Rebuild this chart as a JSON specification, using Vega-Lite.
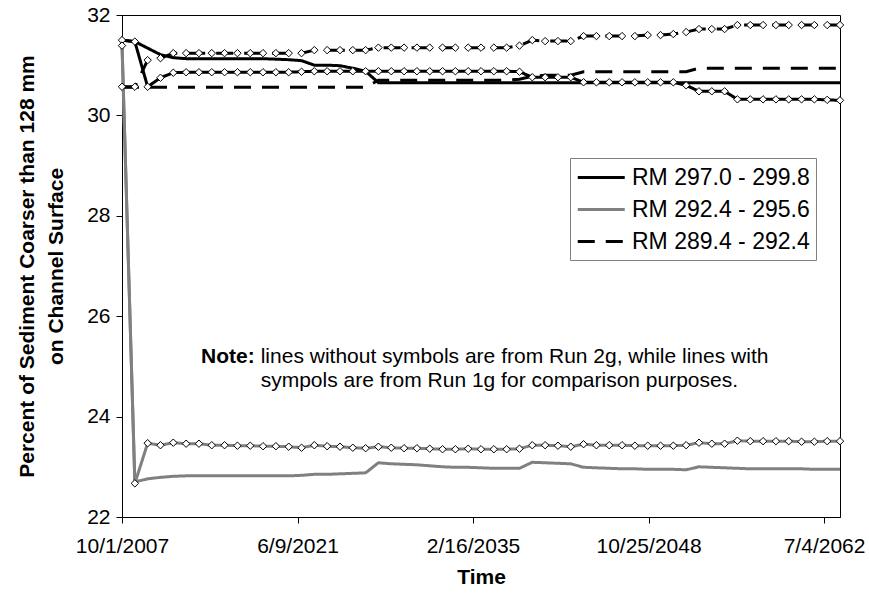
{
"$schema":"https://vega.github.io/schema/vega-lite/v6.json",
"width":718,"height":502,
"autosize":"none",
"padding":{"left":122,"top":15,"right":29,"bottom":77},
"background":"white",
"config":{
"view":{"stroke":"#000","strokeWidth":1},
"font":"Liberation Sans",
"axis":{"labelFont":"Liberation Sans","titleFont":"Liberation Sans","labelFontSize":21,"titleFontSize":21,"labelColor":"#000","titleColor":"#000","domainColor":"#000","tickColor":"#000","grid":false,"tickSize":6,"titleFontWeight":"bold","domainWidth":1,"tickWidth":1}
},
"data":{"values":[
{"date":"2007-10-01","reach":"RM 297.0 - 299.8","run":"2g","pct":31.5},
{"date":"2008-10-01","reach":"RM 297.0 - 299.8","run":"2g","pct":31.47},
{"date":"2009-10-01","reach":"RM 297.0 - 299.8","run":"2g","pct":31.34},
{"date":"2010-10-01","reach":"RM 297.0 - 299.8","run":"2g","pct":31.21},
{"date":"2011-10-01","reach":"RM 297.0 - 299.8","run":"2g","pct":31.15},
{"date":"2012-10-01","reach":"RM 297.0 - 299.8","run":"2g","pct":31.13},
{"date":"2013-10-01","reach":"RM 297.0 - 299.8","run":"2g","pct":31.13},
{"date":"2014-10-01","reach":"RM 297.0 - 299.8","run":"2g","pct":31.13},
{"date":"2015-10-01","reach":"RM 297.0 - 299.8","run":"2g","pct":31.13},
{"date":"2016-10-01","reach":"RM 297.0 - 299.8","run":"2g","pct":31.13},
{"date":"2017-10-01","reach":"RM 297.0 - 299.8","run":"2g","pct":31.13},
{"date":"2018-10-01","reach":"RM 297.0 - 299.8","run":"2g","pct":31.13},
{"date":"2019-10-01","reach":"RM 297.0 - 299.8","run":"2g","pct":31.12},
{"date":"2020-10-01","reach":"RM 297.0 - 299.8","run":"2g","pct":31.11},
{"date":"2021-10-01","reach":"RM 297.0 - 299.8","run":"2g","pct":31.09},
{"date":"2022-10-01","reach":"RM 297.0 - 299.8","run":"2g","pct":31.0},
{"date":"2023-10-01","reach":"RM 297.0 - 299.8","run":"2g","pct":31.0},
{"date":"2024-10-01","reach":"RM 297.0 - 299.8","run":"2g","pct":30.99},
{"date":"2025-10-01","reach":"RM 297.0 - 299.8","run":"2g","pct":30.94},
{"date":"2026-10-01","reach":"RM 297.0 - 299.8","run":"2g","pct":30.88},
{"date":"2027-10-01","reach":"RM 297.0 - 299.8","run":"2g","pct":30.65},
{"date":"2028-10-01","reach":"RM 297.0 - 299.8","run":"2g","pct":30.65},
{"date":"2029-10-01","reach":"RM 297.0 - 299.8","run":"2g","pct":30.65},
{"date":"2030-10-01","reach":"RM 297.0 - 299.8","run":"2g","pct":30.65},
{"date":"2031-10-01","reach":"RM 297.0 - 299.8","run":"2g","pct":30.65},
{"date":"2032-10-01","reach":"RM 297.0 - 299.8","run":"2g","pct":30.65},
{"date":"2033-10-01","reach":"RM 297.0 - 299.8","run":"2g","pct":30.65},
{"date":"2034-10-01","reach":"RM 297.0 - 299.8","run":"2g","pct":30.65},
{"date":"2035-10-01","reach":"RM 297.0 - 299.8","run":"2g","pct":30.65},
{"date":"2036-10-01","reach":"RM 297.0 - 299.8","run":"2g","pct":30.65},
{"date":"2037-10-01","reach":"RM 297.0 - 299.8","run":"2g","pct":30.65},
{"date":"2038-10-01","reach":"RM 297.0 - 299.8","run":"2g","pct":30.65},
{"date":"2039-10-01","reach":"RM 297.0 - 299.8","run":"2g","pct":30.65},
{"date":"2040-10-01","reach":"RM 297.0 - 299.8","run":"2g","pct":30.65},
{"date":"2041-10-01","reach":"RM 297.0 - 299.8","run":"2g","pct":30.65},
{"date":"2042-10-01","reach":"RM 297.0 - 299.8","run":"2g","pct":30.65},
{"date":"2043-10-01","reach":"RM 297.0 - 299.8","run":"2g","pct":30.65},
{"date":"2044-10-01","reach":"RM 297.0 - 299.8","run":"2g","pct":30.65},
{"date":"2045-10-01","reach":"RM 297.0 - 299.8","run":"2g","pct":30.65},
{"date":"2046-10-01","reach":"RM 297.0 - 299.8","run":"2g","pct":30.65},
{"date":"2047-10-01","reach":"RM 297.0 - 299.8","run":"2g","pct":30.65},
{"date":"2048-10-01","reach":"RM 297.0 - 299.8","run":"2g","pct":30.65},
{"date":"2049-10-01","reach":"RM 297.0 - 299.8","run":"2g","pct":30.65},
{"date":"2050-10-01","reach":"RM 297.0 - 299.8","run":"2g","pct":30.65},
{"date":"2051-10-01","reach":"RM 297.0 - 299.8","run":"2g","pct":30.65},
{"date":"2052-10-01","reach":"RM 297.0 - 299.8","run":"2g","pct":30.65},
{"date":"2053-10-01","reach":"RM 297.0 - 299.8","run":"2g","pct":30.65},
{"date":"2054-10-01","reach":"RM 297.0 - 299.8","run":"2g","pct":30.65},
{"date":"2055-10-01","reach":"RM 297.0 - 299.8","run":"2g","pct":30.65},
{"date":"2056-10-01","reach":"RM 297.0 - 299.8","run":"2g","pct":30.65},
{"date":"2057-10-01","reach":"RM 297.0 - 299.8","run":"2g","pct":30.65},
{"date":"2058-10-01","reach":"RM 297.0 - 299.8","run":"2g","pct":30.65},
{"date":"2059-10-01","reach":"RM 297.0 - 299.8","run":"2g","pct":30.65},
{"date":"2060-10-01","reach":"RM 297.0 - 299.8","run":"2g","pct":30.65},
{"date":"2061-10-01","reach":"RM 297.0 - 299.8","run":"2g","pct":30.65},
{"date":"2062-10-01","reach":"RM 297.0 - 299.8","run":"2g","pct":30.65},
{"date":"2063-10-01","reach":"RM 297.0 - 299.8","run":"2g","pct":30.65},
{"date":"2007-10-01","reach":"RM 297.0 - 299.8","run":"1g","pct":31.5},
{"date":"2008-10-01","reach":"RM 297.0 - 299.8","run":"1g","pct":31.47},
{"date":"2009-10-01","reach":"RM 297.0 - 299.8","run":"1g","pct":30.57},
{"date":"2010-10-01","reach":"RM 297.0 - 299.8","run":"1g","pct":30.75},
{"date":"2011-10-01","reach":"RM 297.0 - 299.8","run":"1g","pct":30.85},
{"date":"2012-10-01","reach":"RM 297.0 - 299.8","run":"1g","pct":30.86},
{"date":"2013-10-01","reach":"RM 297.0 - 299.8","run":"1g","pct":30.86},
{"date":"2014-10-01","reach":"RM 297.0 - 299.8","run":"1g","pct":30.86},
{"date":"2015-10-01","reach":"RM 297.0 - 299.8","run":"1g","pct":30.86},
{"date":"2016-10-01","reach":"RM 297.0 - 299.8","run":"1g","pct":30.86},
{"date":"2017-10-01","reach":"RM 297.0 - 299.8","run":"1g","pct":30.86},
{"date":"2018-10-01","reach":"RM 297.0 - 299.8","run":"1g","pct":30.86},
{"date":"2019-10-01","reach":"RM 297.0 - 299.8","run":"1g","pct":30.86},
{"date":"2020-10-01","reach":"RM 297.0 - 299.8","run":"1g","pct":30.86},
{"date":"2021-10-01","reach":"RM 297.0 - 299.8","run":"1g","pct":30.87},
{"date":"2022-10-01","reach":"RM 297.0 - 299.8","run":"1g","pct":30.88},
{"date":"2023-10-01","reach":"RM 297.0 - 299.8","run":"1g","pct":30.88},
{"date":"2024-10-01","reach":"RM 297.0 - 299.8","run":"1g","pct":30.88},
{"date":"2025-10-01","reach":"RM 297.0 - 299.8","run":"1g","pct":30.88},
{"date":"2026-10-01","reach":"RM 297.0 - 299.8","run":"1g","pct":30.88},
{"date":"2027-10-01","reach":"RM 297.0 - 299.8","run":"1g","pct":30.88},
{"date":"2028-10-01","reach":"RM 297.0 - 299.8","run":"1g","pct":30.88},
{"date":"2029-10-01","reach":"RM 297.0 - 299.8","run":"1g","pct":30.88},
{"date":"2030-10-01","reach":"RM 297.0 - 299.8","run":"1g","pct":30.88},
{"date":"2031-10-01","reach":"RM 297.0 - 299.8","run":"1g","pct":30.88},
{"date":"2032-10-01","reach":"RM 297.0 - 299.8","run":"1g","pct":30.88},
{"date":"2033-10-01","reach":"RM 297.0 - 299.8","run":"1g","pct":30.88},
{"date":"2034-10-01","reach":"RM 297.0 - 299.8","run":"1g","pct":30.88},
{"date":"2035-10-01","reach":"RM 297.0 - 299.8","run":"1g","pct":30.88},
{"date":"2036-10-01","reach":"RM 297.0 - 299.8","run":"1g","pct":30.88},
{"date":"2037-10-01","reach":"RM 297.0 - 299.8","run":"1g","pct":30.88},
{"date":"2038-10-01","reach":"RM 297.0 - 299.8","run":"1g","pct":30.87},
{"date":"2039-10-01","reach":"RM 297.0 - 299.8","run":"1g","pct":30.76},
{"date":"2040-10-01","reach":"RM 297.0 - 299.8","run":"1g","pct":30.76},
{"date":"2041-10-01","reach":"RM 297.0 - 299.8","run":"1g","pct":30.76},
{"date":"2042-10-01","reach":"RM 297.0 - 299.8","run":"1g","pct":30.76},
{"date":"2043-10-01","reach":"RM 297.0 - 299.8","run":"1g","pct":30.66},
{"date":"2044-10-01","reach":"RM 297.0 - 299.8","run":"1g","pct":30.66},
{"date":"2045-10-01","reach":"RM 297.0 - 299.8","run":"1g","pct":30.66},
{"date":"2046-10-01","reach":"RM 297.0 - 299.8","run":"1g","pct":30.66},
{"date":"2047-10-01","reach":"RM 297.0 - 299.8","run":"1g","pct":30.66},
{"date":"2048-10-01","reach":"RM 297.0 - 299.8","run":"1g","pct":30.66},
{"date":"2049-10-01","reach":"RM 297.0 - 299.8","run":"1g","pct":30.66},
{"date":"2050-10-01","reach":"RM 297.0 - 299.8","run":"1g","pct":30.66},
{"date":"2051-10-01","reach":"RM 297.0 - 299.8","run":"1g","pct":30.6},
{"date":"2052-10-01","reach":"RM 297.0 - 299.8","run":"1g","pct":30.48},
{"date":"2053-10-01","reach":"RM 297.0 - 299.8","run":"1g","pct":30.48},
{"date":"2054-10-01","reach":"RM 297.0 - 299.8","run":"1g","pct":30.48},
{"date":"2055-10-01","reach":"RM 297.0 - 299.8","run":"1g","pct":30.32},
{"date":"2056-10-01","reach":"RM 297.0 - 299.8","run":"1g","pct":30.32},
{"date":"2057-10-01","reach":"RM 297.0 - 299.8","run":"1g","pct":30.32},
{"date":"2058-10-01","reach":"RM 297.0 - 299.8","run":"1g","pct":30.32},
{"date":"2059-10-01","reach":"RM 297.0 - 299.8","run":"1g","pct":30.32},
{"date":"2060-10-01","reach":"RM 297.0 - 299.8","run":"1g","pct":30.32},
{"date":"2061-10-01","reach":"RM 297.0 - 299.8","run":"1g","pct":30.32},
{"date":"2062-10-01","reach":"RM 297.0 - 299.8","run":"1g","pct":30.31},
{"date":"2063-10-01","reach":"RM 297.0 - 299.8","run":"1g","pct":30.3},
{"date":"2007-10-01","reach":"RM 292.4 - 295.6","run":"2g","pct":31.45},
{"date":"2008-10-01","reach":"RM 292.4 - 295.6","run":"2g","pct":22.7},
{"date":"2009-10-01","reach":"RM 292.4 - 295.6","run":"2g","pct":22.76},
{"date":"2010-10-01","reach":"RM 292.4 - 295.6","run":"2g","pct":22.79},
{"date":"2011-10-01","reach":"RM 292.4 - 295.6","run":"2g","pct":22.81},
{"date":"2012-10-01","reach":"RM 292.4 - 295.6","run":"2g","pct":22.82},
{"date":"2013-10-01","reach":"RM 292.4 - 295.6","run":"2g","pct":22.82},
{"date":"2014-10-01","reach":"RM 292.4 - 295.6","run":"2g","pct":22.82},
{"date":"2015-10-01","reach":"RM 292.4 - 295.6","run":"2g","pct":22.82},
{"date":"2016-10-01","reach":"RM 292.4 - 295.6","run":"2g","pct":22.82},
{"date":"2017-10-01","reach":"RM 292.4 - 295.6","run":"2g","pct":22.82},
{"date":"2018-10-01","reach":"RM 292.4 - 295.6","run":"2g","pct":22.82},
{"date":"2019-10-01","reach":"RM 292.4 - 295.6","run":"2g","pct":22.82},
{"date":"2020-10-01","reach":"RM 292.4 - 295.6","run":"2g","pct":22.82},
{"date":"2021-10-01","reach":"RM 292.4 - 295.6","run":"2g","pct":22.83},
{"date":"2022-10-01","reach":"RM 292.4 - 295.6","run":"2g","pct":22.85},
{"date":"2023-10-01","reach":"RM 292.4 - 295.6","run":"2g","pct":22.85},
{"date":"2024-10-01","reach":"RM 292.4 - 295.6","run":"2g","pct":22.86},
{"date":"2025-10-01","reach":"RM 292.4 - 295.6","run":"2g","pct":22.87},
{"date":"2026-10-01","reach":"RM 292.4 - 295.6","run":"2g","pct":22.88},
{"date":"2027-10-01","reach":"RM 292.4 - 295.6","run":"2g","pct":23.08},
{"date":"2028-10-01","reach":"RM 292.4 - 295.6","run":"2g","pct":23.06},
{"date":"2029-10-01","reach":"RM 292.4 - 295.6","run":"2g","pct":23.05},
{"date":"2030-10-01","reach":"RM 292.4 - 295.6","run":"2g","pct":23.04},
{"date":"2031-10-01","reach":"RM 292.4 - 295.6","run":"2g","pct":23.02},
{"date":"2032-10-01","reach":"RM 292.4 - 295.6","run":"2g","pct":23.0},
{"date":"2033-10-01","reach":"RM 292.4 - 295.6","run":"2g","pct":22.99},
{"date":"2034-10-01","reach":"RM 292.4 - 295.6","run":"2g","pct":22.99},
{"date":"2035-10-01","reach":"RM 292.4 - 295.6","run":"2g","pct":22.98},
{"date":"2036-10-01","reach":"RM 292.4 - 295.6","run":"2g","pct":22.97},
{"date":"2037-10-01","reach":"RM 292.4 - 295.6","run":"2g","pct":22.97},
{"date":"2038-10-01","reach":"RM 292.4 - 295.6","run":"2g","pct":22.97},
{"date":"2039-10-01","reach":"RM 292.4 - 295.6","run":"2g","pct":23.09},
{"date":"2040-10-01","reach":"RM 292.4 - 295.6","run":"2g","pct":23.08},
{"date":"2041-10-01","reach":"RM 292.4 - 295.6","run":"2g","pct":23.07},
{"date":"2042-10-01","reach":"RM 292.4 - 295.6","run":"2g","pct":23.06},
{"date":"2043-10-01","reach":"RM 292.4 - 295.6","run":"2g","pct":22.99},
{"date":"2044-10-01","reach":"RM 292.4 - 295.6","run":"2g","pct":22.98},
{"date":"2045-10-01","reach":"RM 292.4 - 295.6","run":"2g","pct":22.97},
{"date":"2046-10-01","reach":"RM 292.4 - 295.6","run":"2g","pct":22.96},
{"date":"2047-10-01","reach":"RM 292.4 - 295.6","run":"2g","pct":22.96},
{"date":"2048-10-01","reach":"RM 292.4 - 295.6","run":"2g","pct":22.95},
{"date":"2049-10-01","reach":"RM 292.4 - 295.6","run":"2g","pct":22.95},
{"date":"2050-10-01","reach":"RM 292.4 - 295.6","run":"2g","pct":22.95},
{"date":"2051-10-01","reach":"RM 292.4 - 295.6","run":"2g","pct":22.94},
{"date":"2052-10-01","reach":"RM 292.4 - 295.6","run":"2g","pct":23.0},
{"date":"2053-10-01","reach":"RM 292.4 - 295.6","run":"2g","pct":22.99},
{"date":"2054-10-01","reach":"RM 292.4 - 295.6","run":"2g","pct":22.98},
{"date":"2055-10-01","reach":"RM 292.4 - 295.6","run":"2g","pct":22.97},
{"date":"2056-10-01","reach":"RM 292.4 - 295.6","run":"2g","pct":22.96},
{"date":"2057-10-01","reach":"RM 292.4 - 295.6","run":"2g","pct":22.96},
{"date":"2058-10-01","reach":"RM 292.4 - 295.6","run":"2g","pct":22.96},
{"date":"2059-10-01","reach":"RM 292.4 - 295.6","run":"2g","pct":22.96},
{"date":"2060-10-01","reach":"RM 292.4 - 295.6","run":"2g","pct":22.96},
{"date":"2061-10-01","reach":"RM 292.4 - 295.6","run":"2g","pct":22.95},
{"date":"2062-10-01","reach":"RM 292.4 - 295.6","run":"2g","pct":22.95},
{"date":"2063-10-01","reach":"RM 292.4 - 295.6","run":"2g","pct":22.95},
{"date":"2007-10-01","reach":"RM 292.4 - 295.6","run":"1g","pct":31.39},
{"date":"2008-10-01","reach":"RM 292.4 - 295.6","run":"1g","pct":22.67},
{"date":"2009-10-01","reach":"RM 292.4 - 295.6","run":"1g","pct":23.47},
{"date":"2010-10-01","reach":"RM 292.4 - 295.6","run":"1g","pct":23.43},
{"date":"2011-10-01","reach":"RM 292.4 - 295.6","run":"1g","pct":23.48},
{"date":"2012-10-01","reach":"RM 292.4 - 295.6","run":"1g","pct":23.46},
{"date":"2013-10-01","reach":"RM 292.4 - 295.6","run":"1g","pct":23.46},
{"date":"2014-10-01","reach":"RM 292.4 - 295.6","run":"1g","pct":23.43},
{"date":"2015-10-01","reach":"RM 292.4 - 295.6","run":"1g","pct":23.43},
{"date":"2016-10-01","reach":"RM 292.4 - 295.6","run":"1g","pct":23.42},
{"date":"2017-10-01","reach":"RM 292.4 - 295.6","run":"1g","pct":23.42},
{"date":"2018-10-01","reach":"RM 292.4 - 295.6","run":"1g","pct":23.41},
{"date":"2019-10-01","reach":"RM 292.4 - 295.6","run":"1g","pct":23.41},
{"date":"2020-10-01","reach":"RM 292.4 - 295.6","run":"1g","pct":23.4},
{"date":"2021-10-01","reach":"RM 292.4 - 295.6","run":"1g","pct":23.38},
{"date":"2022-10-01","reach":"RM 292.4 - 295.6","run":"1g","pct":23.43},
{"date":"2023-10-01","reach":"RM 292.4 - 295.6","run":"1g","pct":23.41},
{"date":"2024-10-01","reach":"RM 292.4 - 295.6","run":"1g","pct":23.4},
{"date":"2025-10-01","reach":"RM 292.4 - 295.6","run":"1g","pct":23.38},
{"date":"2026-10-01","reach":"RM 292.4 - 295.6","run":"1g","pct":23.37},
{"date":"2027-10-01","reach":"RM 292.4 - 295.6","run":"1g","pct":23.4},
{"date":"2028-10-01","reach":"RM 292.4 - 295.6","run":"1g","pct":23.38},
{"date":"2029-10-01","reach":"RM 292.4 - 295.6","run":"1g","pct":23.37},
{"date":"2030-10-01","reach":"RM 292.4 - 295.6","run":"1g","pct":23.37},
{"date":"2031-10-01","reach":"RM 292.4 - 295.6","run":"1g","pct":23.36},
{"date":"2032-10-01","reach":"RM 292.4 - 295.6","run":"1g","pct":23.35},
{"date":"2033-10-01","reach":"RM 292.4 - 295.6","run":"1g","pct":23.35},
{"date":"2034-10-01","reach":"RM 292.4 - 295.6","run":"1g","pct":23.36},
{"date":"2035-10-01","reach":"RM 292.4 - 295.6","run":"1g","pct":23.35},
{"date":"2036-10-01","reach":"RM 292.4 - 295.6","run":"1g","pct":23.35},
{"date":"2037-10-01","reach":"RM 292.4 - 295.6","run":"1g","pct":23.35},
{"date":"2038-10-01","reach":"RM 292.4 - 295.6","run":"1g","pct":23.36},
{"date":"2039-10-01","reach":"RM 292.4 - 295.6","run":"1g","pct":23.43},
{"date":"2040-10-01","reach":"RM 292.4 - 295.6","run":"1g","pct":23.43},
{"date":"2041-10-01","reach":"RM 292.4 - 295.6","run":"1g","pct":23.42},
{"date":"2042-10-01","reach":"RM 292.4 - 295.6","run":"1g","pct":23.4},
{"date":"2043-10-01","reach":"RM 292.4 - 295.6","run":"1g","pct":23.45},
{"date":"2044-10-01","reach":"RM 292.4 - 295.6","run":"1g","pct":23.43},
{"date":"2045-10-01","reach":"RM 292.4 - 295.6","run":"1g","pct":23.43},
{"date":"2046-10-01","reach":"RM 292.4 - 295.6","run":"1g","pct":23.43},
{"date":"2047-10-01","reach":"RM 292.4 - 295.6","run":"1g","pct":23.42},
{"date":"2048-10-01","reach":"RM 292.4 - 295.6","run":"1g","pct":23.42},
{"date":"2049-10-01","reach":"RM 292.4 - 295.6","run":"1g","pct":23.42},
{"date":"2050-10-01","reach":"RM 292.4 - 295.6","run":"1g","pct":23.42},
{"date":"2051-10-01","reach":"RM 292.4 - 295.6","run":"1g","pct":23.43},
{"date":"2052-10-01","reach":"RM 292.4 - 295.6","run":"1g","pct":23.48},
{"date":"2053-10-01","reach":"RM 292.4 - 295.6","run":"1g","pct":23.46},
{"date":"2054-10-01","reach":"RM 292.4 - 295.6","run":"1g","pct":23.46},
{"date":"2055-10-01","reach":"RM 292.4 - 295.6","run":"1g","pct":23.52},
{"date":"2056-10-01","reach":"RM 292.4 - 295.6","run":"1g","pct":23.51},
{"date":"2057-10-01","reach":"RM 292.4 - 295.6","run":"1g","pct":23.51},
{"date":"2058-10-01","reach":"RM 292.4 - 295.6","run":"1g","pct":23.51},
{"date":"2059-10-01","reach":"RM 292.4 - 295.6","run":"1g","pct":23.51},
{"date":"2060-10-01","reach":"RM 292.4 - 295.6","run":"1g","pct":23.5},
{"date":"2061-10-01","reach":"RM 292.4 - 295.6","run":"1g","pct":23.5},
{"date":"2062-10-01","reach":"RM 292.4 - 295.6","run":"1g","pct":23.51},
{"date":"2063-10-01","reach":"RM 292.4 - 295.6","run":"1g","pct":23.51},
{"date":"2007-10-01","reach":"RM 289.4 - 292.4","run":"2g","pct":30.56},
{"date":"2008-10-01","reach":"RM 289.4 - 292.4","run":"2g","pct":30.56},
{"date":"2009-10-01","reach":"RM 289.4 - 292.4","run":"2g","pct":30.56},
{"date":"2010-10-01","reach":"RM 289.4 - 292.4","run":"2g","pct":30.56},
{"date":"2011-10-01","reach":"RM 289.4 - 292.4","run":"2g","pct":30.56},
{"date":"2012-10-01","reach":"RM 289.4 - 292.4","run":"2g","pct":30.56},
{"date":"2013-10-01","reach":"RM 289.4 - 292.4","run":"2g","pct":30.56},
{"date":"2014-10-01","reach":"RM 289.4 - 292.4","run":"2g","pct":30.56},
{"date":"2015-10-01","reach":"RM 289.4 - 292.4","run":"2g","pct":30.56},
{"date":"2016-10-01","reach":"RM 289.4 - 292.4","run":"2g","pct":30.56},
{"date":"2017-10-01","reach":"RM 289.4 - 292.4","run":"2g","pct":30.56},
{"date":"2018-10-01","reach":"RM 289.4 - 292.4","run":"2g","pct":30.56},
{"date":"2019-10-01","reach":"RM 289.4 - 292.4","run":"2g","pct":30.56},
{"date":"2020-10-01","reach":"RM 289.4 - 292.4","run":"2g","pct":30.56},
{"date":"2021-10-01","reach":"RM 289.4 - 292.4","run":"2g","pct":30.56},
{"date":"2022-10-01","reach":"RM 289.4 - 292.4","run":"2g","pct":30.56},
{"date":"2023-10-01","reach":"RM 289.4 - 292.4","run":"2g","pct":30.56},
{"date":"2024-10-01","reach":"RM 289.4 - 292.4","run":"2g","pct":30.56},
{"date":"2025-10-01","reach":"RM 289.4 - 292.4","run":"2g","pct":30.56},
{"date":"2026-10-01","reach":"RM 289.4 - 292.4","run":"2g","pct":30.56},
{"date":"2027-10-01","reach":"RM 289.4 - 292.4","run":"2g","pct":30.7},
{"date":"2028-10-01","reach":"RM 289.4 - 292.4","run":"2g","pct":30.7},
{"date":"2029-10-01","reach":"RM 289.4 - 292.4","run":"2g","pct":30.7},
{"date":"2030-10-01","reach":"RM 289.4 - 292.4","run":"2g","pct":30.7},
{"date":"2031-10-01","reach":"RM 289.4 - 292.4","run":"2g","pct":30.7},
{"date":"2032-10-01","reach":"RM 289.4 - 292.4","run":"2g","pct":30.7},
{"date":"2033-10-01","reach":"RM 289.4 - 292.4","run":"2g","pct":30.7},
{"date":"2034-10-01","reach":"RM 289.4 - 292.4","run":"2g","pct":30.7},
{"date":"2035-10-01","reach":"RM 289.4 - 292.4","run":"2g","pct":30.7},
{"date":"2036-10-01","reach":"RM 289.4 - 292.4","run":"2g","pct":30.7},
{"date":"2037-10-01","reach":"RM 289.4 - 292.4","run":"2g","pct":30.7},
{"date":"2038-10-01","reach":"RM 289.4 - 292.4","run":"2g","pct":30.72},
{"date":"2039-10-01","reach":"RM 289.4 - 292.4","run":"2g","pct":30.78},
{"date":"2040-10-01","reach":"RM 289.4 - 292.4","run":"2g","pct":30.8},
{"date":"2041-10-01","reach":"RM 289.4 - 292.4","run":"2g","pct":30.8},
{"date":"2042-10-01","reach":"RM 289.4 - 292.4","run":"2g","pct":30.8},
{"date":"2043-10-01","reach":"RM 289.4 - 292.4","run":"2g","pct":30.87},
{"date":"2044-10-01","reach":"RM 289.4 - 292.4","run":"2g","pct":30.87},
{"date":"2045-10-01","reach":"RM 289.4 - 292.4","run":"2g","pct":30.87},
{"date":"2046-10-01","reach":"RM 289.4 - 292.4","run":"2g","pct":30.87},
{"date":"2047-10-01","reach":"RM 289.4 - 292.4","run":"2g","pct":30.87},
{"date":"2048-10-01","reach":"RM 289.4 - 292.4","run":"2g","pct":30.87},
{"date":"2049-10-01","reach":"RM 289.4 - 292.4","run":"2g","pct":30.87},
{"date":"2050-10-01","reach":"RM 289.4 - 292.4","run":"2g","pct":30.87},
{"date":"2051-10-01","reach":"RM 289.4 - 292.4","run":"2g","pct":30.87},
{"date":"2052-10-01","reach":"RM 289.4 - 292.4","run":"2g","pct":30.94},
{"date":"2053-10-01","reach":"RM 289.4 - 292.4","run":"2g","pct":30.94},
{"date":"2054-10-01","reach":"RM 289.4 - 292.4","run":"2g","pct":30.94},
{"date":"2055-10-01","reach":"RM 289.4 - 292.4","run":"2g","pct":30.94},
{"date":"2056-10-01","reach":"RM 289.4 - 292.4","run":"2g","pct":30.94},
{"date":"2057-10-01","reach":"RM 289.4 - 292.4","run":"2g","pct":30.94},
{"date":"2058-10-01","reach":"RM 289.4 - 292.4","run":"2g","pct":30.94},
{"date":"2059-10-01","reach":"RM 289.4 - 292.4","run":"2g","pct":30.94},
{"date":"2060-10-01","reach":"RM 289.4 - 292.4","run":"2g","pct":30.94},
{"date":"2061-10-01","reach":"RM 289.4 - 292.4","run":"2g","pct":30.94},
{"date":"2062-10-01","reach":"RM 289.4 - 292.4","run":"2g","pct":30.94},
{"date":"2063-10-01","reach":"RM 289.4 - 292.4","run":"2g","pct":30.94},
{"date":"2007-10-01","reach":"RM 289.4 - 292.4","run":"1g","pct":30.57},
{"date":"2008-10-01","reach":"RM 289.4 - 292.4","run":"1g","pct":30.57},
{"date":"2009-10-01","reach":"RM 289.4 - 292.4","run":"1g","pct":31.1},
{"date":"2010-10-01","reach":"RM 289.4 - 292.4","run":"1g","pct":31.14},
{"date":"2011-10-01","reach":"RM 289.4 - 292.4","run":"1g","pct":31.24},
{"date":"2012-10-01","reach":"RM 289.4 - 292.4","run":"1g","pct":31.24},
{"date":"2013-10-01","reach":"RM 289.4 - 292.4","run":"1g","pct":31.24},
{"date":"2014-10-01","reach":"RM 289.4 - 292.4","run":"1g","pct":31.24},
{"date":"2015-10-01","reach":"RM 289.4 - 292.4","run":"1g","pct":31.24},
{"date":"2016-10-01","reach":"RM 289.4 - 292.4","run":"1g","pct":31.24},
{"date":"2017-10-01","reach":"RM 289.4 - 292.4","run":"1g","pct":31.24},
{"date":"2018-10-01","reach":"RM 289.4 - 292.4","run":"1g","pct":31.24},
{"date":"2019-10-01","reach":"RM 289.4 - 292.4","run":"1g","pct":31.24},
{"date":"2020-10-01","reach":"RM 289.4 - 292.4","run":"1g","pct":31.24},
{"date":"2021-10-01","reach":"RM 289.4 - 292.4","run":"1g","pct":31.24},
{"date":"2022-10-01","reach":"RM 289.4 - 292.4","run":"1g","pct":31.3},
{"date":"2023-10-01","reach":"RM 289.4 - 292.4","run":"1g","pct":31.3},
{"date":"2024-10-01","reach":"RM 289.4 - 292.4","run":"1g","pct":31.3},
{"date":"2025-10-01","reach":"RM 289.4 - 292.4","run":"1g","pct":31.3},
{"date":"2026-10-01","reach":"RM 289.4 - 292.4","run":"1g","pct":31.3},
{"date":"2027-10-01","reach":"RM 289.4 - 292.4","run":"1g","pct":31.35},
{"date":"2028-10-01","reach":"RM 289.4 - 292.4","run":"1g","pct":31.35},
{"date":"2029-10-01","reach":"RM 289.4 - 292.4","run":"1g","pct":31.35},
{"date":"2030-10-01","reach":"RM 289.4 - 292.4","run":"1g","pct":31.35},
{"date":"2031-10-01","reach":"RM 289.4 - 292.4","run":"1g","pct":31.35},
{"date":"2032-10-01","reach":"RM 289.4 - 292.4","run":"1g","pct":31.35},
{"date":"2033-10-01","reach":"RM 289.4 - 292.4","run":"1g","pct":31.35},
{"date":"2034-10-01","reach":"RM 289.4 - 292.4","run":"1g","pct":31.35},
{"date":"2035-10-01","reach":"RM 289.4 - 292.4","run":"1g","pct":31.35},
{"date":"2036-10-01","reach":"RM 289.4 - 292.4","run":"1g","pct":31.35},
{"date":"2037-10-01","reach":"RM 289.4 - 292.4","run":"1g","pct":31.35},
{"date":"2038-10-01","reach":"RM 289.4 - 292.4","run":"1g","pct":31.39},
{"date":"2039-10-01","reach":"RM 289.4 - 292.4","run":"1g","pct":31.5},
{"date":"2040-10-01","reach":"RM 289.4 - 292.4","run":"1g","pct":31.48},
{"date":"2041-10-01","reach":"RM 289.4 - 292.4","run":"1g","pct":31.48},
{"date":"2042-10-01","reach":"RM 289.4 - 292.4","run":"1g","pct":31.48},
{"date":"2043-10-01","reach":"RM 289.4 - 292.4","run":"1g","pct":31.58},
{"date":"2044-10-01","reach":"RM 289.4 - 292.4","run":"1g","pct":31.58},
{"date":"2045-10-01","reach":"RM 289.4 - 292.4","run":"1g","pct":31.58},
{"date":"2046-10-01","reach":"RM 289.4 - 292.4","run":"1g","pct":31.58},
{"date":"2047-10-01","reach":"RM 289.4 - 292.4","run":"1g","pct":31.58},
{"date":"2048-10-01","reach":"RM 289.4 - 292.4","run":"1g","pct":31.6},
{"date":"2049-10-01","reach":"RM 289.4 - 292.4","run":"1g","pct":31.6},
{"date":"2050-10-01","reach":"RM 289.4 - 292.4","run":"1g","pct":31.62},
{"date":"2051-10-01","reach":"RM 289.4 - 292.4","run":"1g","pct":31.66},
{"date":"2052-10-01","reach":"RM 289.4 - 292.4","run":"1g","pct":31.72},
{"date":"2053-10-01","reach":"RM 289.4 - 292.4","run":"1g","pct":31.72},
{"date":"2054-10-01","reach":"RM 289.4 - 292.4","run":"1g","pct":31.72},
{"date":"2055-10-01","reach":"RM 289.4 - 292.4","run":"1g","pct":31.8},
{"date":"2056-10-01","reach":"RM 289.4 - 292.4","run":"1g","pct":31.8},
{"date":"2057-10-01","reach":"RM 289.4 - 292.4","run":"1g","pct":31.8},
{"date":"2058-10-01","reach":"RM 289.4 - 292.4","run":"1g","pct":31.8},
{"date":"2059-10-01","reach":"RM 289.4 - 292.4","run":"1g","pct":31.8},
{"date":"2060-10-01","reach":"RM 289.4 - 292.4","run":"1g","pct":31.8},
{"date":"2061-10-01","reach":"RM 289.4 - 292.4","run":"1g","pct":31.8},
{"date":"2062-10-01","reach":"RM 289.4 - 292.4","run":"1g","pct":31.8},
{"date":"2063-10-01","reach":"RM 289.4 - 292.4","run":"1g","pct":31.8}
]},
"layer":[
{"mark":{"type":"line","strokeWidth":3,"interpolate":"linear"},
"encoding":{
"x":{"field":"date","type":"temporal","scale":{"type":"utc","domain":[{"year":2007,"month":10,"date":1,"utc":true},{"year":2063,"month":10,"date":1,"utc":true}]},
"axis":{"title":"Time","values":[{"year":2007,"month":10,"date":1,"utc":true},{"year":2021,"month":6,"date":9,"utc":true},{"year":2035,"month":2,"date":16,"utc":true},{"year":2048,"month":10,"date":25,"utc":true},{"year":2062,"month":7,"date":4,"utc":true}],"labelExpr":"utcFormat(datum.value, '%-m/%-d/%Y')","labelFlush":false,"labelOverlap":false,"labelPadding":12,"titlePadding":10}},
"y":{"field":"pct","type":"quantitative","scale":{"domain":[22,32],"nice":false,"zero":false},
"axis":{"title":["Percent of Sediment Coarser than 128 mm","on Channel Surface"],"values":[22,24,26,28,30,32],"labelPadding":6,"titlePadding":20,"titleLineHeight":29}},
"color":{"field":"reach","type":"nominal","scale":{"domain":["RM 297.0 - 299.8","RM 292.4 - 295.6","RM 289.4 - 292.4"],"range":["#000000","#808080","#000000"]},
"legend":{"title":null,"orient":"none","legendX":448,"legendY":143,"fillColor":"white","strokeColor":"#808080","padding":6,"labelFont":"Liberation Sans","labelFontSize":23,"labelColor":"#000","labelLimit":400,"symbolType":"M-1,0H3","symbolSize":552,"symbolStrokeWidth":3,"rowPadding":6,"labelOffset":29}},
"strokeDash":{"field":"reach","type":"nominal","scale":{"domain":["RM 297.0 - 299.8","RM 292.4 - 295.6","RM 289.4 - 292.4"],"range":[[1,0],[1,0],[17,11]]},
"legend":{"title":null,"orient":"none","legendX":448,"legendY":143,"fillColor":"white","strokeColor":"#808080","padding":6,"labelFont":"Liberation Sans","labelFontSize":23,"labelColor":"#000","labelLimit":400,"symbolType":"M-1,0H3","symbolSize":552,"symbolStrokeWidth":3,"rowPadding":6,"labelOffset":29}},
"detail":{"field":"run","type":"nominal"}
}},
{"transform":[{"filter":"datum.run === '1g'"}],
"mark":{"type":"point","shape":"diamond","filled":true,"fill":"white","stroke":"black","strokeWidth":1,"size":55,"opacity":1},
"encoding":{"x":{"field":"date","type":"temporal"},"y":{"field":"pct","type":"quantitative"}}},
{"data":{"values":[{"t":"Note:"}]},
"mark":{"type":"text","align":"right","baseline":"middle","font":"Liberation Sans","fontSize":21,"fontWeight":"bold","color":"#000","dx":-6},
"encoding":{"x":{"datum":{"year":2018,"month":7,"date":26,"utc":true},"type":"temporal"},"y":{"datum":25.19,"type":"quantitative"},"text":{"field":"t"}}},
{"data":{"values":[{"t":"lines without symbols are from Run 2g, while lines with"}]},
"mark":{"type":"text","align":"left","baseline":"middle","font":"Liberation Sans","fontSize":21,"color":"#000"},
"encoding":{"x":{"datum":{"year":2018,"month":7,"date":26,"utc":true},"type":"temporal"},"y":{"datum":25.19,"type":"quantitative"},"text":{"field":"t"}}},
{"data":{"values":[{"t":"sympols are from Run 1g for comparison purposes."}]},
"mark":{"type":"text","align":"left","baseline":"middle","font":"Liberation Sans","fontSize":21,"color":"#000"},
"encoding":{"x":{"datum":{"year":2018,"month":7,"date":26,"utc":true},"type":"temporal"},"y":{"datum":24.71,"type":"quantitative"},"text":{"field":"t"}}}
]
}
